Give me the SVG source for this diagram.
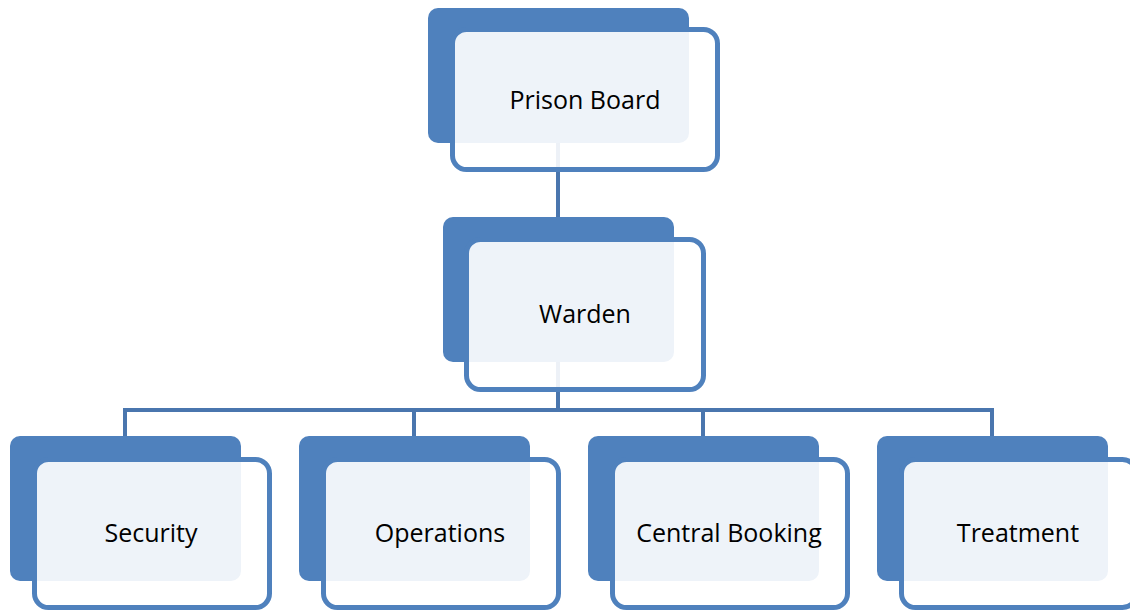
<svg xmlns="http://www.w3.org/2000/svg" width="1130" height="611" viewBox="0 0 1130 611">
<style>
.back{fill:#4F81BD;}
.front{fill:#FFFFFF;fill-opacity:0.9;stroke:#4F81BD;stroke-width:5;}
.lbl{font-family:"Open Sans","Noto Sans","Liberation Sans",sans-serif;font-size:25px;fill:#000;text-anchor:middle;}
.conn{fill:none;stroke:#4A76AE;stroke-width:4;}
</style>
<rect width="1130" height="611" fill="#FFFFFF"/>
<g id="connectors">
<path class="conn" d="M558,143 V217"/>
<path class="conn" d="M558,362 V410"/>
<path class="conn" d="M125,436 V410 H992 V436"/>
<path class="conn" d="M414,410 V436"/>
<path class="conn" d="M703,410 V436"/>
</g>
<g id="prison-board">
<rect class="back" x="428" y="8" width="261" height="135" rx="10"/>
<rect class="front" x="452.5" y="29.5" width="265" height="140" rx="14"/>
<text class="lbl" x="585" y="109">Prison Board</text>
</g>
<g id="warden">
<rect class="back" x="443" y="217" width="231" height="145" rx="10"/>
<rect class="front" x="466.5" y="239.5" width="237" height="150" rx="14"/>
<text class="lbl" x="585" y="323">Warden</text>
</g>
<g id="security">
<rect class="back" x="10" y="436" width="231" height="145" rx="10"/>
<rect class="front" x="34.5" y="459.5" width="235" height="148" rx="14"/>
<text class="lbl" x="151" y="542">Security</text>
</g>
<g id="operations">
<rect class="back" x="299" y="436" width="231" height="145" rx="10"/>
<rect class="front" x="323.5" y="459.5" width="235" height="148" rx="14"/>
<text class="lbl" x="440" y="542">Operations</text>
</g>
<g id="central-booking">
<rect class="back" x="588" y="436" width="231" height="145" rx="10"/>
<rect class="front" x="612.5" y="459.5" width="235" height="148" rx="14"/>
<text class="lbl" x="729" y="542">Central Booking</text>
</g>
<g id="treatment">
<rect class="back" x="877" y="436" width="231" height="145" rx="10"/>
<rect class="front" x="901.5" y="459.5" width="235" height="148" rx="14"/>
<text class="lbl" x="1018" y="542">Treatment</text>
</g>
</svg>
